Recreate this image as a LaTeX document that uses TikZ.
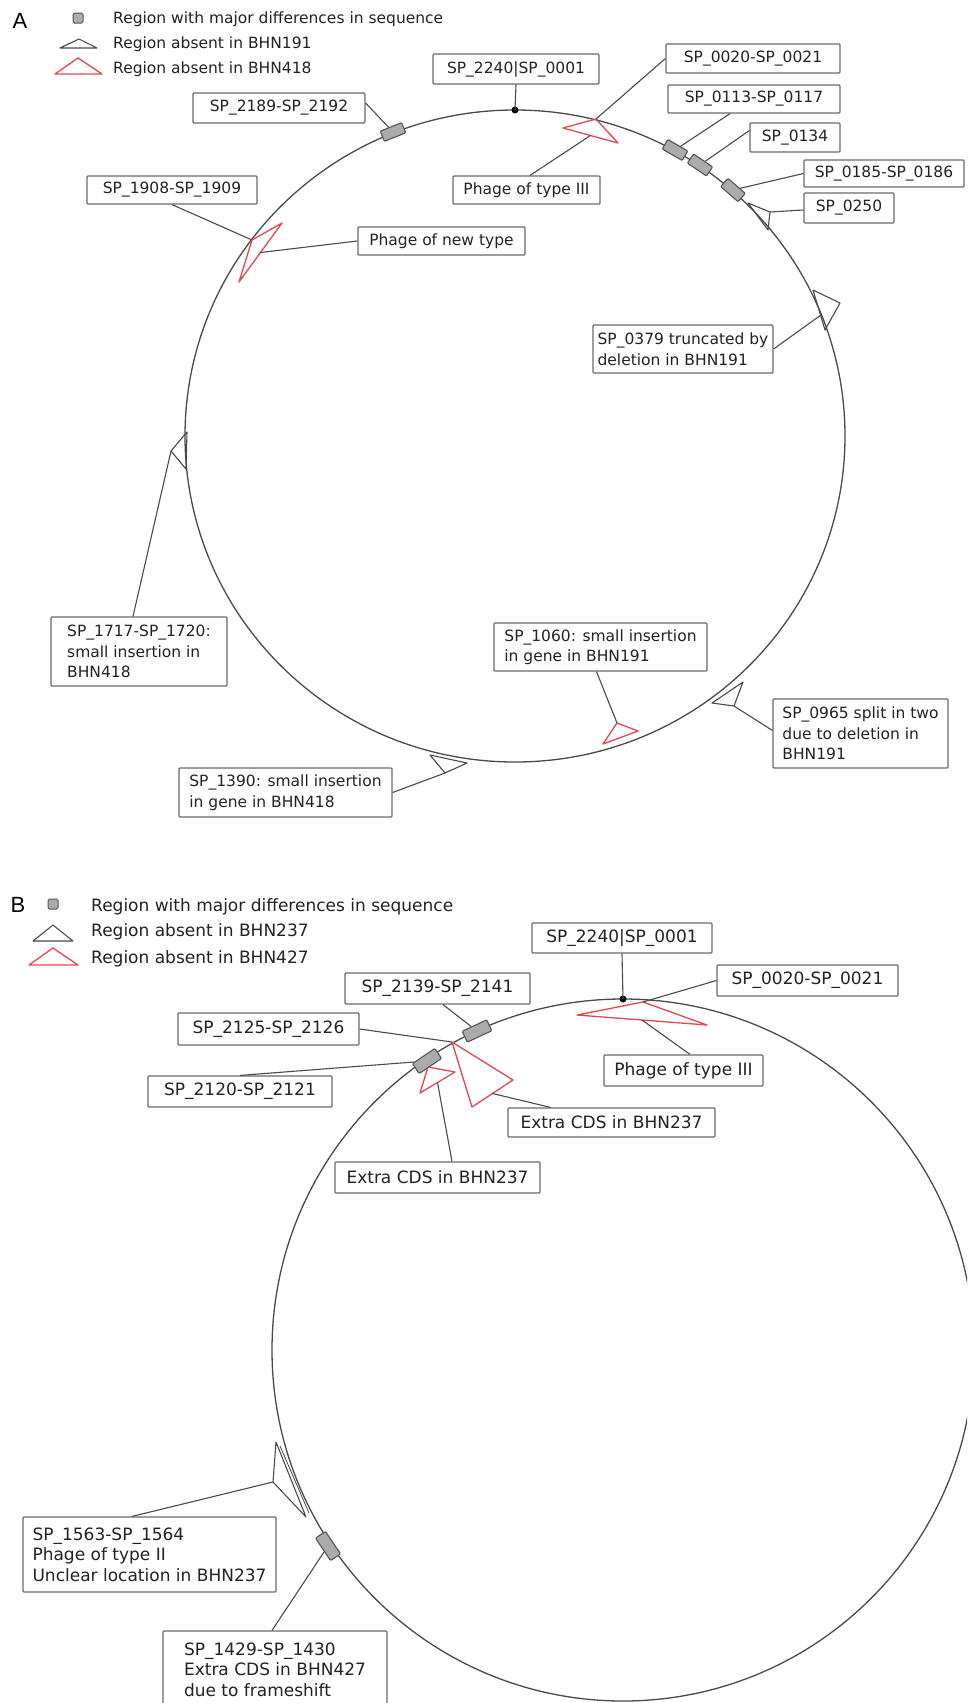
\documentclass[tikz,border=0pt]{standalone}
\usepackage{fontspec}
\setmainfont{DejaVu Sans}
\newfontfamily\panelfont{Liberation Sans}
\definecolor{ink}{HTML}{222222}
\definecolor{linec}{HTML}{4A4A4A}
\definecolor{boxc}{HTML}{6A6A6A}
\definecolor{redc}{HTML}{E8474F}
\definecolor{rectfill}{HTML}{ABABAB}
\definecolor{rectdraw}{HTML}{555555}
\begin{document}
\begin{tikzpicture}[x=1pt,y=-1pt,
  lblA/.style={draw=boxc, line width=1.2pt, rounded corners=1pt, fill=white, inner sep=0pt, align=left, text=ink, font=\fontsize{15.5}{20.5}\selectfont},
  lblB/.style={lblA, font=\fontsize{17}{20.5}\selectfont},
  conn/.style={draw=linec, line width=1.1pt},
  genome/.style={draw=linec, line width=1.3pt},
  redtri/.style={draw=redc, line width=1.3pt, line join=round},
  blktri/.style={draw=linec, line width=1.1pt, line join=round},
  grectA/.style={draw=rectdraw, fill=rectfill, line width=1.1pt, rounded corners=1pt, minimum width=23pt, minimum height=11pt, inner sep=0pt},
  grectB/.style={grectA, minimum width=27pt, minimum height=12pt},
  dotm/.style={circle, fill=black, inner sep=0pt, minimum size=7pt},
  legsq/.style={draw=rectdraw, fill=rectfill, line width=1pt, rounded corners=1.5pt, minimum size=10pt, inner sep=0pt},
  legtxtA/.style={anchor=west, inner sep=0pt, text=ink, font=\fontsize{15.5}{18}\selectfont},
  legtxtB/.style={anchor=west, inner sep=0pt, text=ink, font=\fontsize{17}{20}\selectfont},
  panel/.style={font=\panelfont\fontsize{22}{22}\selectfont, inner sep=0pt, text=black}
]
\useasboundingbox (0,0) rectangle (967,1703);
\clip (0,0) rectangle (967,1703);
\fill[white] (0,0) rectangle (967,1703);

%%%%%%%%%%%%%%%%%%%% PANEL A %%%%%%%%%%%%%%%%%%%%
\node[panel] (labA) at (20,21) {A};
\node[legsq] (legAsq) at (78,18) {};
\coordinate (lAba) at (60,48); \coordinate (lAbb) at (97,48); \coordinate (lAbc) at (79,39);
\draw[blktri] (lAba) -- (lAbb) -- (lAbc) -- cycle;
\coordinate (lAra) at (55,74); \coordinate (lArb) at (102,74); \coordinate (lArc) at (78,58);
\draw[redtri] (lAra) -- (lArb) -- (lArc) -- cycle;
\node[legtxtA] (legAt1) at (113,19) {Region with major differences in sequence};
\node[legtxtA] (legAt2) at (113,44) {Region absent in BHN191};
\node[legtxtA] (legAt3) at (113,69) {Region absent in BHN418};

\coordinate (cA) at (515,436);
\draw[genome] (cA) ellipse [x radius=330pt, y radius=326pt];

% triangles A
\coordinate (t1a) at (596,119); \coordinate (t1b) at (563,128); \coordinate (t1c) at (618,143); \coordinate (t1m) at (590.5,135.5);
\draw[redtri] (t1a) -- (t1b) -- (t1c) -- cycle;
\coordinate (t2a) at (252,240); \coordinate (t2b) at (239,282); \coordinate (t2c) at (282,223); \coordinate (t2m) at (260.5,252.5);
\draw[redtri] (t2a) -- (t2b) -- (t2c) -- cycle;
\coordinate (t3a) at (748,203); \coordinate (t3b) at (770,212); \coordinate (t3c) at (768,230);
\draw[blktri] (t3a) -- (t3b) -- (t3c) -- cycle;
\coordinate (t4a) at (813,290); \coordinate (t4b) at (840,303); \coordinate (t4c) at (825,330); \coordinate (t4m) at (821,315);
\draw[blktri] (t4a) -- (t4b) -- (t4c) -- cycle;
\coordinate (t5a) at (187,432); \coordinate (t5b) at (171,451); \coordinate (t5c) at (186,469);
\draw[blktri] (t5a) -- (t5b) -- (t5c) -- cycle;
\coordinate (t6a) at (617,723); \coordinate (t6b) at (603,744); \coordinate (t6c) at (638,731);
\draw[redtri] (t6a) -- (t6b) -- (t6c) -- cycle;
\coordinate (t7a) at (712,703); \coordinate (t7b) at (743,682); \coordinate (t7c) at (734,706);
\draw[blktri] (t7a) -- (t7b) -- (t7c) -- cycle;
\coordinate (t8a) at (430,755); \coordinate (t8b) at (467,763); \coordinate (t8c) at (445,773);
\draw[blktri] (t8a) -- (t8b) -- (t8c) -- cycle;

% gray rects A
\node[grectA, rotate=22] (r2189) at (393,132) {};
\node[grectA, rotate=-30] (r0113) at (675,150) {};
\node[grectA, rotate=-34] (r0134) at (700,165) {};
\node[grectA, rotate=-41] (r0185) at (733,190) {};
\node[dotm] (dotA) at (515,110) {};

% label boxes A
\node[lblA, minimum width=172pt, minimum height=30pt] (a2189) at (279,108) {SP\_2189-SP\_2192};
\node[lblA, minimum width=166pt, minimum height=30pt] (a2240) at (516,69) {SP\_2240\textbar SP\_0001};
\node[lblA, minimum width=174pt, minimum height=29pt] (a0020) at (753,58.5) {SP\_0020-SP\_0021};
\node[lblA, minimum width=172pt, minimum height=28pt] (a0113) at (754,99) {SP\_0113-SP\_0117};
\node[lblA, minimum width=90pt, minimum height=29pt] (a0134) at (795,137.5) {SP\_0134};
\node[lblA, minimum width=160pt, minimum height=27pt] (a0185) at (884,173.5) {SP\_0185-SP\_0186};
\node[lblA, minimum width=90pt, minimum height=30pt] (a0250) at (849,208) {SP\_0250};
\node[lblA, minimum width=147pt, minimum height=28pt] (aph3) at (526.5,190) {Phage of type III};
\node[lblA, minimum width=170pt, minimum height=28pt] (a1908) at (172,190) {SP\_1908-SP\_1909};
\node[lblA, minimum width=167pt, minimum height=28pt] (aphn) at (441.5,241) {Phage of new type};
\node[lblA, minimum width=180pt, minimum height=48pt] (a0379) at (683,349) {SP\_0379 truncated by\\deletion in BHN191};
\node[lblA, minimum width=176pt, minimum height=69pt] (a1717) at (139,651.5) {SP\_1717-SP\_1720:\\small insertion in\\BHN418};
\node[lblA, minimum width=213pt, minimum height=48pt] (a1060) at (600.5,647) {SP\_1060: small insertion\\in gene in BHN191};
\node[lblA, minimum width=175pt, minimum height=69pt] (a0965) at (860.5,733.5) {SP\_0965 split in two\\due to deletion in\\BHN191};
\node[lblA, minimum width=213pt, minimum height=49pt] (a1390) at (285.5,792.5) {SP\_1390: small insertion\\in gene in BHN418};

% connectors A
\draw[conn] ([yshift=5pt]a2189.east) -- (r2189);
\draw[conn] (a2240.south) -- (dotA.center);
\draw[conn] (a0020.west) -- (t1a);
\draw[conn] ([xshift=-24pt]a0113.south) -- (r0113);
\draw[conn] ([yshift=7pt]a0134.west) -- (r0134);
\draw[conn] (a0185.west) -- (r0185);
\draw[conn] ([yshift=-2pt]a0250.west) -- (t3b);
\draw[conn] ([xshift=3.5pt]aph3.north) -- (t1m);
\draw[conn] (a1908.south) -- (t2a);
\draw[conn] (aphn.west) -- (t2m);
\draw[conn] (a0379.east) -- (t4m);
\draw[conn] ([xshift=-6pt]a1717.north) -- (t5b);
\draw[conn] ([xshift=-4pt]a1060.south) -- (t6a);
\draw[conn] ([yshift=3pt]a0965.west) -- (t7c);
\draw[conn] (a1390.east) -- (t8c);

%%%%%%%%%%%%%%%%%%%% PANEL B %%%%%%%%%%%%%%%%%%%%
\node[panel] (labB) at (18,905) {B};
\node[legsq] (legBsq) at (53,904) {};
\coordinate (lBba) at (33,941); \coordinate (lBbb) at (73,941); \coordinate (lBbc) at (53,925);
\draw[blktri] (lBba) -- (lBbb) -- (lBbc) -- cycle;
\coordinate (lBra) at (29,965); \coordinate (lBrb) at (78,965); \coordinate (lBrc) at (53,948);
\draw[redtri] (lBra) -- (lBrb) -- (lBrc) -- cycle;
\node[legtxtB] (legBt1) at (91,907) {Region with major differences in sequence};
\node[legtxtB] (legBt2) at (91,932) {Region absent in BHN237};
\node[legtxtB] (legBt3) at (91,959) {Region absent in BHN427};

\coordinate (cB) at (623,1350);
\draw[genome] (cB) circle [radius=351pt];

% triangles B
\coordinate (tb1a) at (452,1042); \coordinate (tb1b) at (513,1080); \coordinate (tb1c) at (472,1107); \coordinate (tb1m) at (492.5,1093.5);
\draw[redtri] (tb1a) -- (tb1b) -- (tb1c) -- cycle;
\coordinate (tb2a) at (428,1067); \coordinate (tb2b) at (455,1072); \coordinate (tb2c) at (420,1093); \coordinate (tb2m) at (437.5,1082.5);
\draw[redtri] (tb2a) -- (tb2b) -- (tb2c) -- cycle;
\coordinate (tb3a) at (643,1002); \coordinate (tb3b) at (577,1015); \coordinate (tb3c) at (707,1025); \coordinate (tb3m) at (642,1020);
\draw[redtri] (tb3a) -- (tb3b) -- (tb3c) -- cycle;
\coordinate (tb4a) at (276,1442); \coordinate (tb4b) at (273,1482); \coordinate (tb4c) at (306,1517);
\draw[blktri] (tb4a) -- (tb4b) -- (tb4c) -- cycle;
\coordinate (tb4d) at (280,1446); \coordinate (tb4e) at (309,1513);
\draw[blktri, line width=0.8pt] (tb4d) -- (tb4e);

% gray rects B
\node[grectB, rotate=25] (rb2139) at (477,1031) {};
\node[grectB, rotate=34] (rb2120) at (427,1061) {};
\node[grectB, rotate=-56] (rb1429) at (328,1546) {};
\node[dotm] (dotB) at (623,999) {};

% label boxes B
\node[lblB, minimum width=185pt, minimum height=31pt] (b2139) at (437.5,988.5) {SP\_2139-SP\_2141};
\node[lblB, minimum width=181pt, minimum height=32pt] (b2125) at (268.5,1029) {SP\_2125-SP\_2126};
\node[lblB, minimum width=184pt, minimum height=31pt] (b2120) at (240,1091.5) {SP\_2120-SP\_2121};
\node[lblB, minimum width=180pt, minimum height=30pt] (b2240) at (622,938) {SP\_2240\textbar SP\_0001};
\node[lblB, minimum width=181pt, minimum height=31pt] (b0020) at (807.5,980.5) {SP\_0020-SP\_0021};
\node[lblB, minimum width=159pt, minimum height=31pt] (bph3) at (683.5,1070.5) {Phage of type III};
\node[lblB, minimum width=207pt, minimum height=29pt] (bcds1) at (611.5,1122.5) {Extra CDS in BHN237};
\node[lblB, minimum width=205pt, minimum height=31pt] (bcds2) at (437.5,1177.5) {Extra CDS in BHN237};
\node[lblB, minimum width=253pt, minimum height=75pt] (b1563) at (149.5,1554.5) {SP\_1563-SP\_1564\\Phage of type II\\Unclear location in BHN237};
\node[lblB, minimum width=224pt, minimum height=77pt] (b1429) at (275,1669.5) {SP\_1429-SP\_1430\\Extra CDS in BHN427\\due to frameshift};

% connectors B
\draw[conn] ([xshift=5.5pt]b2139.south) -- (rb2139);
\draw[conn] (b2125.east) -- (tb1a);
\draw[conn] (b2120.north) -- (rb2120);
\draw[conn] (b2240.south) -- (dotB.center);
\draw[conn] (b0020.west) -- (tb3a);
\draw[conn] ([xshift=6.5pt]bph3.north) -- (tb3m);
\draw[conn] ([xshift=-61pt]bcds1.north) -- (tb1m);
\draw[conn] ([xshift=14.5pt]bcds2.north) -- (tb2m);
\draw[conn] ([xshift=-17.5pt]b1563.north) -- (tb4b);
\draw[conn] ([xshift=-3pt]b1429.north) -- (rb1429);
\end{tikzpicture}
\end{document}
